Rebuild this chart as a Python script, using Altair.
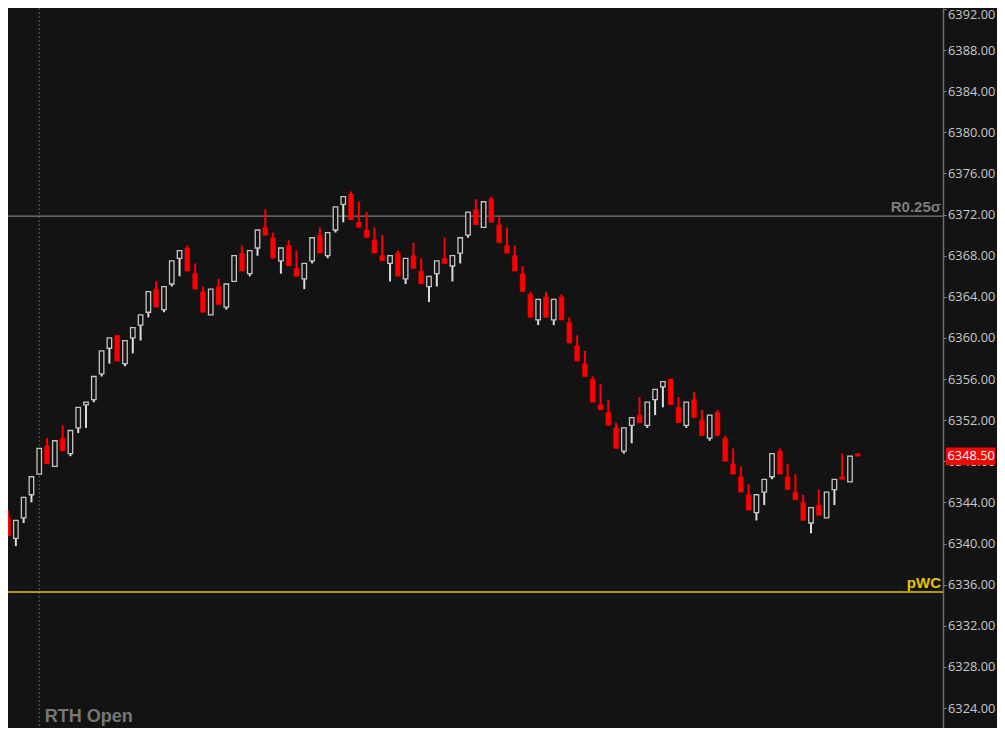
import altair as alt
import pandas as pd

opens = [6342.5, 6340.5, 6342.5, 6344.75, 6346.75, 6349.5, 6347.5, 6350.25, 6348.75, 6351.25,
         6353.5, 6354.0, 6356.5, 6359.0, 6360.25, 6357.5, 6360.0, 6361.25, 6362.5, 6364.75,
         6362.75, 6365.25, 6367.75, 6368.75, 6366.25, 6364.5, 6362.25, 6365.0, 6363.0, 6365.5,
         6368.25, 6366.25, 6368.75, 6370.75, 6369.75, 6367.5, 6369.0, 6366.75, 6365.75, 6367.5,
         6370.0, 6368.0, 6370.5, 6373.0, 6374.0, 6371.25, 6370.5, 6369.5, 6368.0, 6367.25,
         6368.25, 6365.75, 6368.0, 6366.5, 6365.0, 6366.25, 6367.75, 6367.0, 6368.25, 6370.0,
         6372.5, 6370.75, 6373.5, 6371.0, 6369.0, 6368.0, 6366.25, 6364.25, 6361.75, 6364.0,
         6361.75, 6364.0, 6361.5, 6359.25, 6357.5, 6356.0, 6353.5, 6352.75, 6351.25, 6349.0,
         6351.5, 6352.5, 6351.5, 6354.0, 6355.25, 6356.0, 6353.25, 6351.5, 6354.0, 6352.0,
         6350.25, 6352.75, 6350.25, 6347.75, 6346.5, 6344.75, 6343.0, 6345.0, 6346.5, 6349.0,
         6346.5, 6345.0, 6344.0, 6342.0, 6343.75, 6342.5, 6345.25, 6346.5, 6346.0, 6348.75]
highs = [6343.25, 6342.25, 6344.5, 6346.5, 6349.25, 6350.25, 6350.0, 6351.5, 6351.0, 6353.25,
         6353.75, 6356.25, 6358.75, 6360.0, 6360.25, 6359.75, 6361.0, 6362.25, 6364.5, 6365.5,
         6365.0, 6367.5, 6368.5, 6369.0, 6367.25, 6365.0, 6364.75, 6365.75, 6365.25, 6368.0,
         6369.0, 6368.5, 6370.5, 6372.5, 6370.25, 6368.75, 6369.5, 6368.5, 6367.25, 6369.75,
         6370.75, 6370.25, 6372.75, 6373.75, 6374.25, 6373.25, 6372.25, 6370.75, 6370.0, 6368.0,
         6368.5, 6367.75, 6369.25, 6367.75, 6366.0, 6367.5, 6369.75, 6368.0, 6369.75, 6372.25,
         6373.5, 6373.25, 6373.75, 6371.75, 6370.75, 6369.0, 6367.0, 6364.5, 6363.75, 6364.5,
         6363.75, 6364.25, 6362.0, 6360.25, 6358.75, 6356.25, 6355.5, 6354.0, 6351.75, 6351.25,
         6352.25, 6354.25, 6353.75, 6355.0, 6355.75, 6356.0, 6354.25, 6353.75, 6354.75, 6353.0,
         6352.5, 6353.0, 6350.5, 6349.25, 6347.5, 6345.75, 6344.75, 6346.25, 6348.75, 6349.25,
         6347.75, 6346.75, 6344.75, 6343.5, 6345.25, 6345.0, 6346.25, 6348.75, 6348.5, 6348.75]
lows = [6340.75, 6339.75, 6342.0, 6344.0, 6346.75, 6347.75, 6347.5, 6349.0, 6348.5, 6350.75,
        6351.25, 6353.75, 6356.25, 6357.5, 6357.75, 6357.25, 6358.5, 6359.75, 6362.0, 6363.0,
        6362.5, 6365.0, 6366.0, 6366.5, 6364.75, 6362.5, 6362.25, 6363.25, 6362.75, 6365.5,
        6366.5, 6366.0, 6368.0, 6370.0, 6367.75, 6366.25, 6367.0, 6366.0, 6364.75, 6367.25,
        6368.25, 6367.75, 6370.25, 6371.25, 6371.5, 6370.75, 6369.75, 6368.25, 6367.5, 6365.5,
        6366.0, 6365.25, 6366.75, 6365.25, 6363.5, 6365.0, 6367.25, 6365.5, 6367.25, 6369.75,
        6371.0, 6370.75, 6371.25, 6369.25, 6368.25, 6366.5, 6364.5, 6362.0, 6361.25, 6362.0,
        6361.25, 6361.75, 6359.5, 6357.75, 6356.25, 6353.75, 6353.0, 6351.5, 6349.25, 6348.75,
        6349.75, 6351.75, 6351.25, 6352.5, 6353.25, 6353.5, 6351.75, 6351.25, 6352.25, 6350.5,
        6350.0, 6350.5, 6348.0, 6346.75, 6345.0, 6343.25, 6342.25, 6343.75, 6346.25, 6346.75,
        6345.25, 6344.25, 6342.25, 6341.0, 6342.75, 6342.5, 6343.75, 6346.25, 6346.0, 6348.5]
closes = [6340.75, 6342.25, 6344.5, 6346.5, 6349.25, 6347.75, 6350.0, 6349.0, 6351.0, 6353.25,
          6353.75, 6356.25, 6358.75, 6360.0, 6357.75, 6359.75, 6361.0, 6362.25, 6364.5, 6363.0,
          6365.0, 6367.5, 6368.5, 6366.5, 6364.75, 6362.5, 6364.75, 6363.25, 6365.25, 6368.0,
          6366.5, 6368.5, 6370.5, 6370.0, 6367.75, 6368.75, 6367.0, 6366.0, 6367.25, 6369.75,
          6368.25, 6370.25, 6372.75, 6373.75, 6371.5, 6370.75, 6369.75, 6368.25, 6367.5, 6368.0,
          6366.0, 6367.75, 6366.75, 6365.25, 6366.0, 6367.5, 6367.25, 6368.0, 6369.75, 6372.25,
          6371.0, 6373.25, 6371.25, 6369.25, 6368.25, 6366.5, 6364.5, 6362.0, 6363.75, 6362.0,
          6363.75, 6361.75, 6359.5, 6357.75, 6356.25, 6353.75, 6353.0, 6351.5, 6349.25, 6351.25,
          6352.25, 6351.75, 6353.75, 6355.0, 6355.75, 6353.5, 6351.75, 6353.75, 6352.25, 6350.5,
          6352.5, 6350.5, 6348.0, 6346.75, 6345.0, 6343.25, 6344.75, 6346.25, 6348.75, 6346.75,
          6345.25, 6344.25, 6342.25, 6343.5, 6342.75, 6345.0, 6346.25, 6346.25, 6348.5, 6348.5]

level_values = [6371.86, 6335.29]
level_labels = ["R0.25σ", "pWC"]
level_colors = ["#7c7c7c", "#e8c400"]
rth_index = 4
rth_label = "RTH Open"
last_price = 6348.50
y_ticks = list(range(6324, 6393, 4))

BG = "#131313"
W, H = 935, 720

df = pd.DataFrame({"i": list(range(len(opens))), "open": opens, "high": highs,
                   "low": lows, "close": closes})
df["dir"] = ["up" if c > o else "down" for o, c in zip(opens, closes)]
levels = pd.DataFrame({"v": level_values, "label": level_labels, "color": level_colors})

xs = alt.Scale(domain=[0.6345, 119.29], nice=False, zero=False)
ys = alt.Scale(domain=[6322.058, 6392.097], nice=False, zero=False)
yax = alt.Axis(orient="right", values=y_ticks, format=".2f", title=None, grid=False,
               domainColor="#6e6e6e", domainWidth=1.5, tickColor="#8a8a8a", tickSize=3,
               labelPadding=1.5, labelColor="#c8c8c8", labelFont="Open Sans",
               labelFontSize=12.8,
               labelBaseline={"condition": {"test": "datum.value >= 6392", "value": "top"},
                              "value": "middle"})

X = alt.X("i:Q", scale=xs, axis=None)

base = alt.Chart(df)
wicks = base.mark_rule(strokeWidth=2).encode(
    x=X,
    y=alt.Y("low:Q", scale=ys, axis=yax),
    y2="high:Q",
    color=alt.Color("dir:N", scale=alt.Scale(domain=["up", "down"], range=["#dcdcdc", "#ff0000"]),
                    legend=None),
)
up_bodies = base.transform_filter(alt.datum.dir == "up").mark_bar(
    size=4.5, fill=BG, stroke="#c4c4c4", strokeWidth=1.3).encode(
    x=X, y=alt.Y("open:Q", scale=ys, axis=yax), y2="close:Q")
down_bodies = base.transform_filter(alt.datum.dir == "down").mark_bar(
    size=5, fill="#ff0000", stroke="#e00000", strokeWidth=0.5).encode(
    x=X, y=alt.Y("open:Q", scale=ys, axis=yax), y2="close:Q")

lv = alt.Chart(levels)
level_lines = lv.mark_rule(strokeWidth=1.3).encode(
    x=alt.value(0), x2=alt.value(W),
    y=alt.Y("v:Q", scale=ys, axis=yax),
    color=alt.Color("color:N", scale=None, legend=None))
level_text = lv.mark_text(align="right", baseline="alphabetic", dy=-4, fontWeight="bold",
                          font="Liberation Sans", fontSize=15).encode(
    x=alt.value(W - 2), y=alt.Y("v:Q", scale=ys, axis=yax), text="label:N",
    color=alt.Color("color:N", scale=None, legend=None))

rth_df = pd.DataFrame({"i": [rth_index], "label": [rth_label]})
rth_line = alt.Chart(rth_df).mark_rule(color="#5a5a5a", strokeWidth=1, strokeDash=[2, 2]).encode(
    x=X, y=alt.value(0), y2=alt.value(H))
rth_text = alt.Chart(rth_df).mark_text(align="left", baseline="alphabetic", dx=5.5,
                                       fontWeight="bold", font="Liberation Sans", fontSize=18,
                                       color="#777777").encode(
    x=X, y=alt.value(714), text="label:N")

lp_df = pd.DataFrame({"p": [last_price], "lo": [last_price - 0.85], "hi": [last_price + 0.85],
                      "label": [f"{last_price:.2f}"]})
lp_rect = alt.Chart(lp_df).mark_rect(color="#ff0000").encode(
    x=alt.value(W + 3), x2=alt.value(W + 52),
    y=alt.Y("lo:Q", scale=ys, axis=yax), y2="hi:Q")
lp_text = alt.Chart(lp_df).mark_text(align="left", baseline="middle", font="Open Sans",
                                     fontSize=12.8, color="#ffffff").encode(
    x=alt.value(W + 4.5), y=alt.Y("p:Q", scale=ys, axis=yax), text="label:N")

chart = alt.layer(rth_line, level_lines, wicks, up_bodies, down_bodies, level_text, rth_text,
                  lp_rect, lp_text).properties(
    width=W, height=H,
    autosize=alt.AutoSizeParams(type="none"),
    padding={"left": 0, "top": 0, "right": 54, "bottom": 0},
).configure(background=BG).configure_view(stroke=None)

chart.save("out.html", embed_options={"renderer": "svg", "actions": False})
